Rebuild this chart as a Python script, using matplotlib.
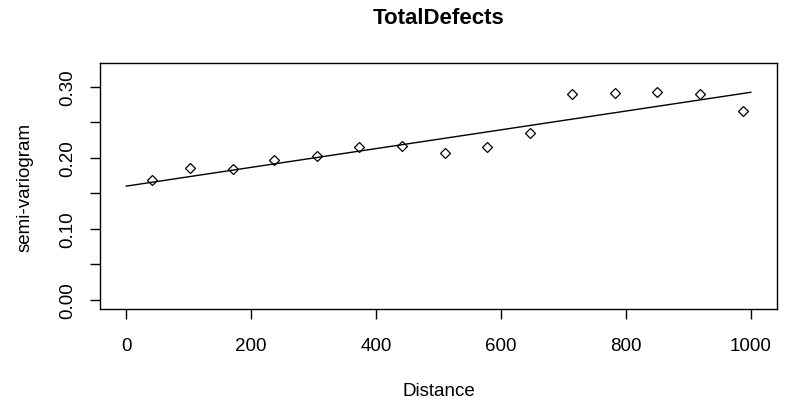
import numpy as np
import matplotlib
matplotlib.use('Agg')
import matplotlib.pyplot as plt

plt.rcParams['font.family'] = ['Liberation Sans', 'DejaVu Sans']

# empirical semi-variogram
dist = [42, 102, 171, 237, 305, 373, 441, 510, 578, 646, 714, 782, 850, 918, 987]
gamma = [0.169, 0.185, 0.184, 0.197, 0.203, 0.2145, 0.217, 0.207, 0.215, 0.235,
         0.289, 0.291, 0.293, 0.290, 0.265]
# fitted linear model
fit_x = [0, 1000]
fit_y = [0.160, 0.292]

xticks = [0, 200, 400, 600, 800, 1000]
yticks = [0.00, 0.05, 0.10, 0.15, 0.20, 0.25, 0.30]
ylabels = ['0.00', '', '0.10', '', '0.20', '', '0.30']

fig = plt.figure(figsize=(7.88, 4.06), dpi=100)
ax = fig.add_axes([0.1269, 0.2365, 0.8591, 0.6055])

ax.plot(dist, gamma, linestyle='none', marker='D', markersize=5.5,
        markerfacecolor='none', markeredgecolor='black', markeredgewidth=0.9)
ax.plot(fit_x, fit_y, color='black', linewidth=1.0)

ax.set_xlim(-42, 1042)
ax.set_ylim(-0.0128, 0.333)
ax.set_xticks(xticks)
ax.set_xticklabels([str(v) for v in xticks])
ax.set_yticks(yticks)
ax.set_yticklabels(ylabels, rotation=90, va='center')

ax.tick_params(direction='out', length=7, width=1, labelsize=13.5)
ax.tick_params(axis='x', pad=13)
ax.tick_params(axis='y', pad=10)
for s in ax.spines.values():
    s.set_linewidth(1.0)

ax.set_xlabel('Distance', fontsize=13.5, va='center')
ax.xaxis.set_label_coords(0.5, -0.33)
ax.set_ylabel('semi-variogram', fontsize=13.5, va='center')
ax.yaxis.set_label_coords(-0.111, 0.5)
fig.text(0.5566, 1 - 18 / 406, 'TotalDefects', fontsize=16, fontweight='bold',
         ha='center', va='center')

plt.savefig('out.png', dpi=100)
plt.close(fig)
